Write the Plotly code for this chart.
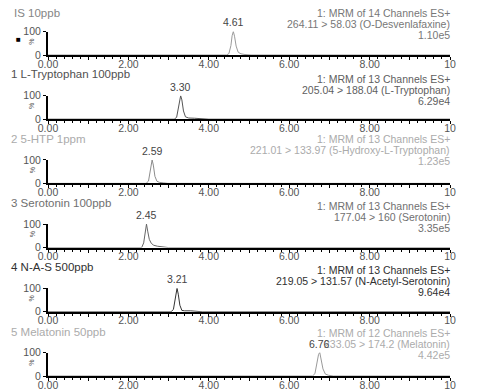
import plotly.graph_objects as go

W, H = 480, 391
OFF = 8  # the page body adds an 8 px margin; positions below are page pixels

titles = ["IS 10ppb", "1 L-Tryptophan 100ppb", "2 5-HTP 1ppm", "3 Serotonin 100ppb",
          "4 N-A-S 500ppb", "5 Melatonin 50ppb"]
info1 = ["1: MRM of 14 Channels ES+", "1: MRM of 13 Channels ES+", "1: MRM of 13 Channels ES+",
         "1: MRM of 13 Channels ES+", "1: MRM of 13 Channels ES+", "1: MRM of 12 Channels ES+"]
info2 = ["264.11 > 58.03 (O-Desvenlafaxine)", "205.04 > 188.04 (L-Tryptophan)",
         "221.01 > 133.97 (5-Hydroxy-L-Tryptophan)", "177.04 > 160 (Serotonin)",
         "219.05 > 131.57 (N-Acetyl-Serotonin)", "233.05 > 174.2 (Melatonin)"]
info3 = ["1.10e5", "6.29e4", "1.23e5", "3.35e5", "9.64e4", "4.42e5"]
peak_rt = [4.61, 3.30, 2.59, 2.45, 3.21, 6.76]
peak_lbl = ["4.61", "3.30", "2.59", "2.45", "3.21", "6.76"]

# chromatogram points (time, % intensity)
t_is = [0.0, 4.44, 4.50, 4.55, 4.58, 4.61, 4.64, 4.68, 4.73, 4.80, 4.90, 5.05, 10.0]
i_is = [0, 0, 6, 40, 82, 100, 80, 38, 12, 5, 2, 0, 0]
t_trp = [0.0, 3.14, 3.20, 3.25, 3.28, 3.30, 3.33, 3.37, 3.42, 3.50, 3.65, 3.85, 4.00, 10.0]
i_trp = [0, 0, 8, 50, 88, 100, 82, 35, 10, 5, 4, 3, 0, 0]
t_htp = [0.0, 2.44, 2.50, 2.55, 2.57, 2.59, 2.62, 2.66, 2.71, 2.78, 2.88, 2.98, 10.0]
i_htp = [0, 0, 10, 60, 90, 100, 78, 30, 9, 4, 2, 0, 0]
t_ser = [0.0, 2.33, 2.38, 2.42, 2.45, 2.48, 2.52, 2.57, 2.63, 2.72, 2.85, 3.00, 10.0]
i_ser = [0, 0, 20, 80, 100, 70, 35, 18, 10, 6, 3, 0, 0]
t_nas = [0.0, 3.06, 3.12, 3.17, 3.19, 3.21, 3.24, 3.28, 3.33, 3.40, 3.55, 3.75, 3.85, 10.0]
i_nas = [0, 0, 10, 65, 92, 100, 75, 28, 6, 4, 4, 3, 0, 0]
t_mel = [0.0, 6.58, 6.64, 6.70, 6.73, 6.76, 6.79, 6.84, 6.90, 6.98, 7.10, 10.0]
i_mel = [0, 0, 10, 62, 92, 100, 78, 30, 8, 3, 0, 0]

times = [t_is, t_trp, t_htp, t_ser, t_nas, t_mel]
ints = [i_is, i_trp, i_htp, i_ser, i_nas, i_mel]

xticks = [0, 1, 2, 3, 4, 5, 6, 7, 8, 9, 10]
xtick_text = ["0.00", "", "2.00", "", "4.00", "", "6.00", "", "8.00", "", "10"]

title_col = ["#858585", "#505050", "#ababab", "#707070", "#303030", "#ababab"]
info_col = ["#777777", "#606060", "#ababab", "#707070", "#303030", "#ababab"]
trace_col = ["#9a9a9a", "#555555", "#8c8c8c", "#666666", "#333333", "#9a9a9a"]

FONT = "Arial, Liberation Sans, sans-serif"

X0, X1 = 48, 450                       # page x of t=0 and t=10
AXY = [55, 119.2, 183.4, 247.6, 311.8, 376]   # page y of 0 %
H100 = 23.5                            # px from 0 % to 100 %
TITLE_X = [12, 9, 9, 9, 9, 9]
TITLE_Y = [13, 74, 139, 203, 267, 332]
INFO_Y = [13, 79, 139, 206, 270, 333]
INFO_DY = 11

def fx(px):
    return (px - OFF) / W

def fy(px):
    return 1 - (px - OFF) / H

fig = go.Figure()
annotations = []
layout = {}
for k in range(6):
    n = "" if k == 0 else str(k + 1)
    y0p = AXY[k]
    y100p = AXY[k] - H100
    fig.add_trace(go.Scatter(x=times[k], y=ints[k], mode="lines",
                             line=dict(color=trace_col[k], width=1),
                             xaxis="x" + n, yaxis="y" + n, showlegend=False,
                             hoverinfo="skip", cliponaxis=False))
    layout["xaxis" + n] = dict(
        domain=[fx(X0), fx(X1)], anchor="y" + n, range=[0, 10], automargin=False,
        tickvals=xticks, ticktext=xtick_text, ticks="outside", ticklen=3,
        tickwidth=1, tickcolor="black", ticklabelstandoff=-5,
        minor=dict(dtick=0.2, ticks="outside", ticklen=2, tickcolor="black", tickwidth=1),
        showline=True, linecolor="black", linewidth=2, showgrid=False, zeroline=False,
        tickfont=dict(family=FONT, size=10.5, color="#555"),
    )
    layout["yaxis" + n] = dict(
        domain=[fy(y0p), fy(y100p)], anchor="x" + n, range=[0, 100], automargin=False,
        tickvals=[0, 100], ticktext=["0", "100"], ticks="outside", ticklen=3,
        tickcolor="black", showline=True, linecolor="black", linewidth=2,
        showgrid=False, zeroline=False,
        tickfont=dict(family=FONT, size=10.5, color="#555"),
    )
    annotations.append(dict(text=titles[k], x=fx(TITLE_X[k]), y=fy(TITLE_Y[k]),
                            xref="paper", yref="paper", xanchor="left", yanchor="middle",
                            showarrow=False, font=dict(family=FONT, size=11.5, color=title_col[k])))
    for j, txt in enumerate([info1[k], info2[k], info3[k]]):
        annotations.append(dict(text=txt, x=fx(X1 + 2), y=fy(INFO_Y[k] + INFO_DY * j),
                                xref="paper", yref="paper", xanchor="right", yanchor="middle",
                                showarrow=False,
                                font=dict(family=FONT, size=10.5, color=info_col[k])))
    annotations.append(dict(text=peak_lbl[k], x=peak_rt[k], y=100, xref="x" + n, yref="y" + n,
                            xanchor="center", yanchor="middle", yshift=9, showarrow=False,
                            font=dict(family=FONT, size=10.5, color="#444")))
    annotations.append(dict(text="%", x=fx(32), y=fy((y0p + y100p) / 2 - 1.5), xref="paper",
                            yref="paper", xanchor="center", yanchor="middle", textangle=-90,
                            showarrow=False, borderpad=0,
                            font=dict(family=FONT, size=7, color="#555")))

annotations.append(dict(text="■", x=fx(18), y=fy(40), xref="paper", yref="paper",
                        xanchor="center", yanchor="middle", showarrow=False,
                        font=dict(family=FONT, size=8, color="black")))

fig.update_layout(width=W, height=H, margin=dict(l=0, r=0, t=0, b=0),
                  paper_bgcolor="white", plot_bgcolor="white",
                  annotations=annotations, **layout)

fig.write_html("out.html")
